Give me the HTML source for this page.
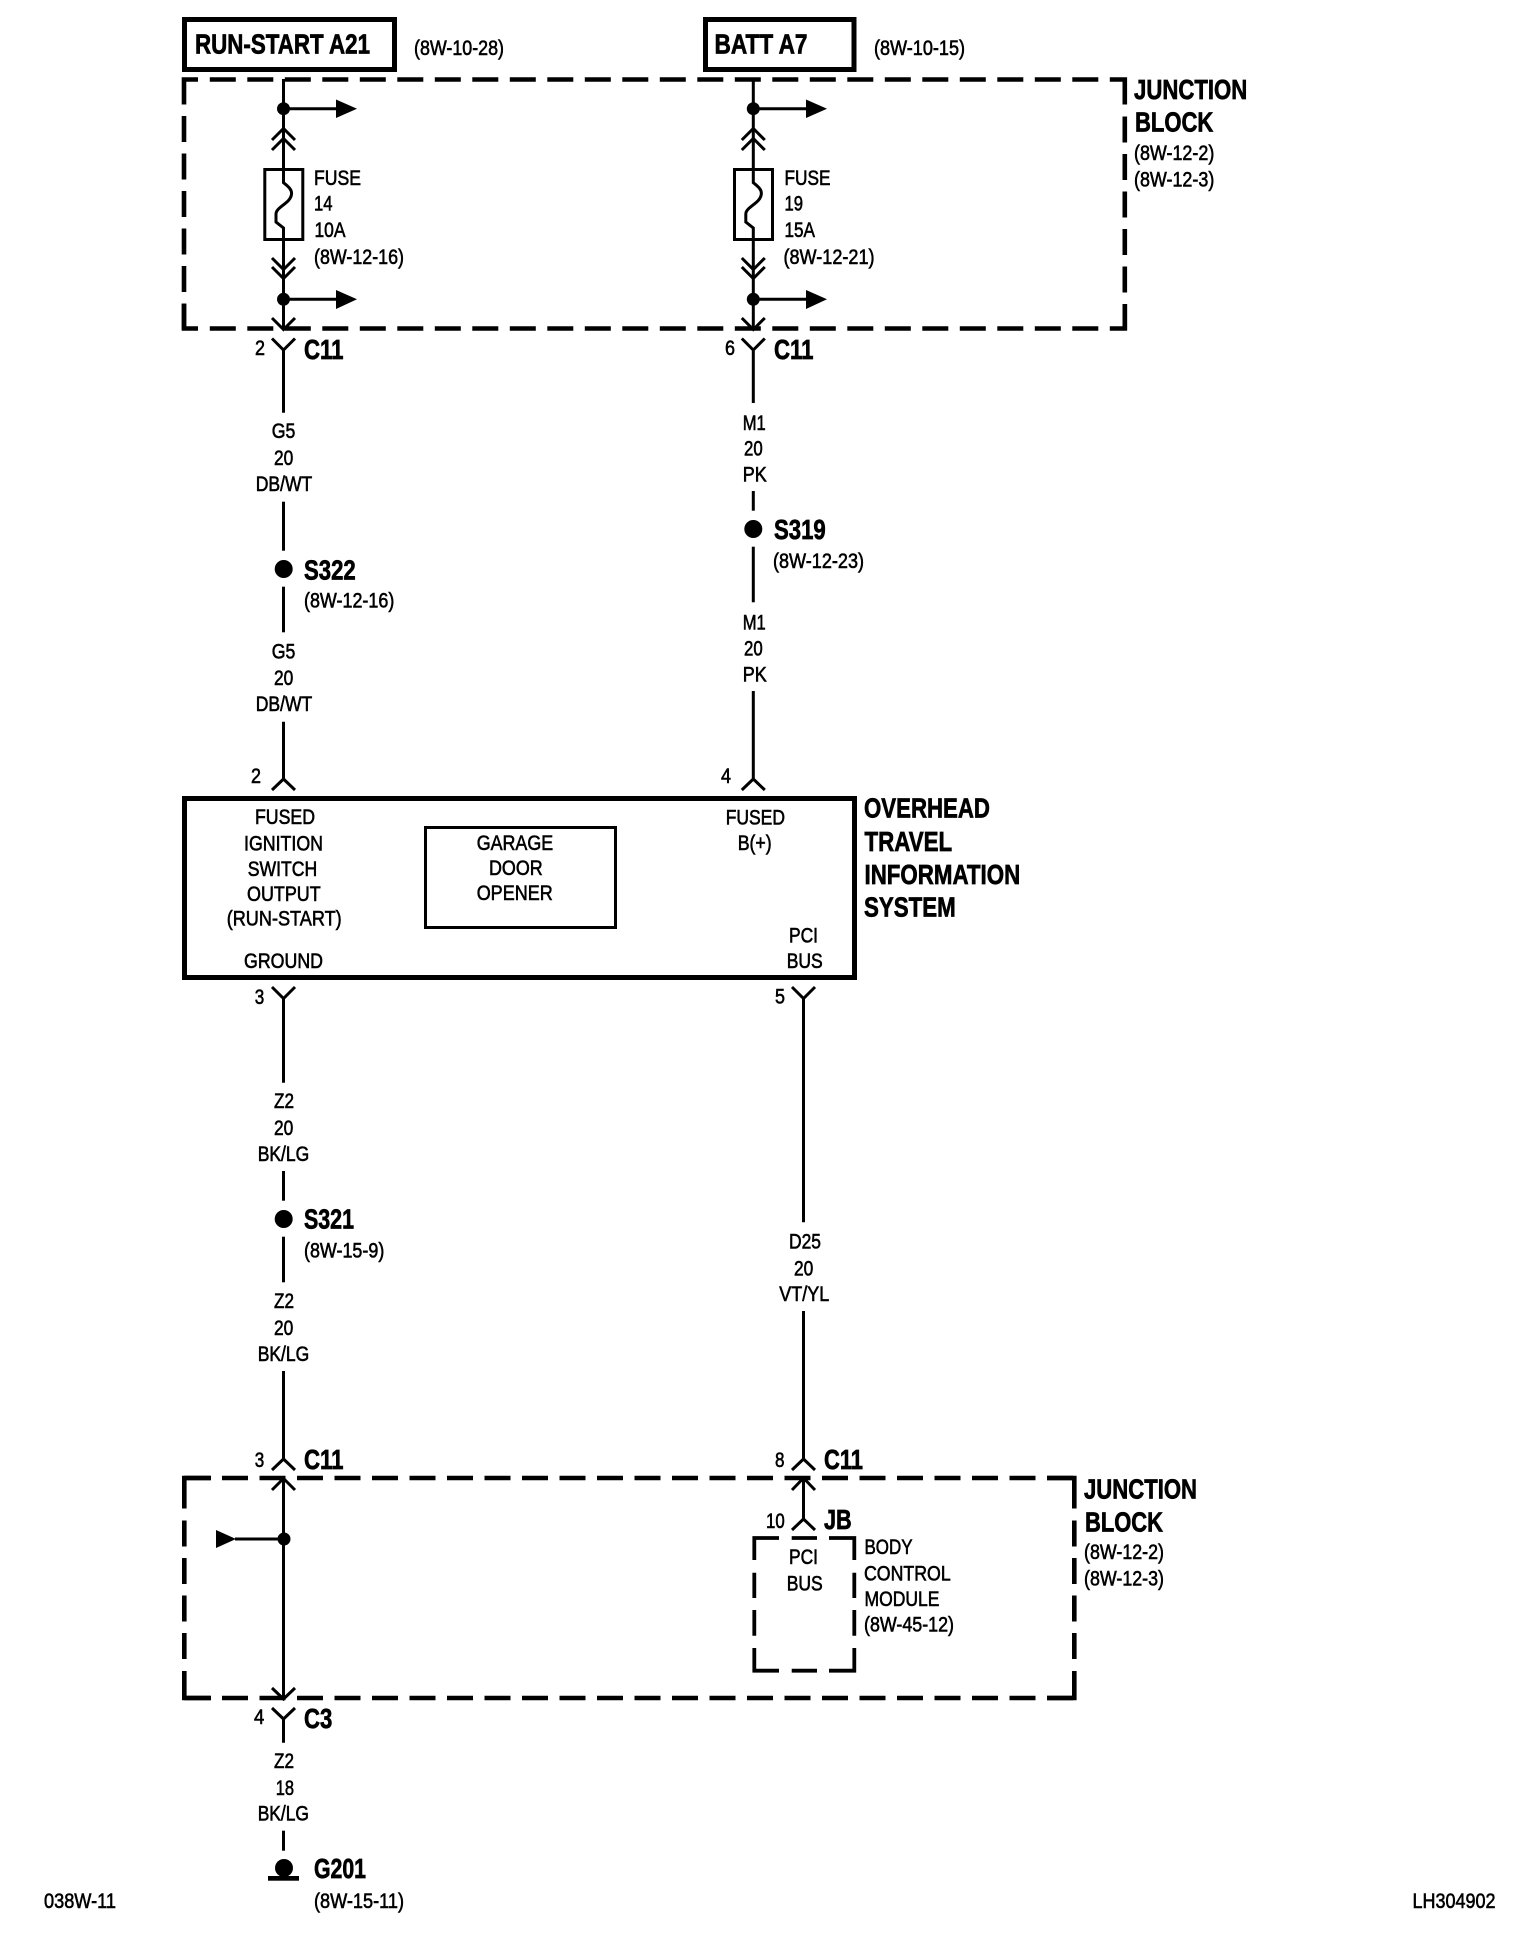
<!DOCTYPE html>
<html><head><meta charset="utf-8"><style>
html,body{margin:0;padding:0;background:#fff;width:1520px;height:1938px;overflow:hidden}
svg{display:block}
text{font-family:"Liberation Sans",Arial,sans-serif;fill:#000}
.r{font-size:21px;stroke:#000;stroke-width:.6}
.b{font-size:28px;font-weight:bold;stroke:#000;stroke-width:.7}
.w{fill:none;stroke:#000;stroke-width:3}
.d{fill:none;stroke:#000;stroke-width:4.6;stroke-dasharray:26 11.5}
.c{fill:none;stroke:#000;stroke-width:4.6}
</style></head><body>
<svg width="1520" height="1938" viewBox="0 0 1520 1938" xmlns="http://www.w3.org/2000/svg">
<rect width="1520" height="1938" fill="#fff"/>
<!-- header boxes -->
<rect x="184.5" y="19.5" width="210" height="50" fill="none" stroke="#000" stroke-width="5"/>
<rect x="705.5" y="19.5" width="148.5" height="50" fill="none" stroke="#000" stroke-width="5"/>
<text class="b" x="195" y="53.5" textLength="175" lengthAdjust="spacingAndGlyphs">RUN-START A21</text>
<text class="r" x="414" y="55" textLength="90" lengthAdjust="spacingAndGlyphs">(8W-10-28)</text>
<text class="b" x="714.5" y="53.5" textLength="93" lengthAdjust="spacingAndGlyphs">BATT A7</text>
<text class="r" x="874" y="55" textLength="91" lengthAdjust="spacingAndGlyphs">(8W-10-15)</text>
<!-- upper junction block -->
<path class="c" d="M198 79.5H184V104.5"/>
<path class="d" d="M209.8 79.5H1110"/>
<path class="c" d="M1110 79.5H1124.8V104.5"/>
<path class="d" d="M184 116V330"/>
<path class="d" d="M1124.8 116.5V330"/>
<path class="c" d="M198 328.5H184V304"/>
<path class="d" d="M209.8 328.5H1110"/>
<path class="c" d="M1110 328.5H1124.8V304"/>
<text class="b" x="1134" y="99.2" textLength="113.3" lengthAdjust="spacingAndGlyphs">JUNCTION</text>
<text class="b" x="1135" y="131.7" textLength="78.3" lengthAdjust="spacingAndGlyphs">BLOCK</text>
<text class="r" x="1134" y="160" textLength="80.3" lengthAdjust="spacingAndGlyphs">(8W-12-2)</text>
<text class="r" x="1134" y="186.7" textLength="80.3" lengthAdjust="spacingAndGlyphs">(8W-12-3)</text>
<!-- left fuse column -->
<path class="w" d="M283.5 79V182.7C289 187 292 190 291.5 194C291 203 276 207 276 214V222L283.5 228V330"/>
<rect x="264.8" y="169.5" width="38" height="70" fill="none" stroke="#000" stroke-width="3"/>
<circle cx="283.5" cy="108.7" r="6.5"/>
<path class="w" d="M283.5 108.7H337"/><path d="M336 99.5L357 108.7L336 118Z"/>
<circle cx="283.5" cy="299.3" r="6.5"/>
<path class="w" d="M283.5 299.3H337"/><path d="M336 290L357 299.3L336 309Z"/>
<path class="w" d="M272 140L283.5 128.5L295 140M272 150L283.5 138.5L295 150"/>
<path class="w" d="M272 258L283.5 269.5L295 258M272 267L283.5 278.5L295 267"/>
<path class="w" d="M272 318L283.5 329.5L295 318"/>
<text class="r" x="314" y="185" textLength="47" lengthAdjust="spacingAndGlyphs">FUSE</text>
<text class="r" x="314" y="210.7" textLength="18.5" lengthAdjust="spacingAndGlyphs">14</text>
<text class="r" x="314.5" y="237" textLength="31" lengthAdjust="spacingAndGlyphs">10A</text>
<text class="r" x="314" y="264" textLength="90" lengthAdjust="spacingAndGlyphs">(8W-12-16)</text>
<!-- right fuse column -->
<path class="w" d="M753.3 79V182.7C758.8 187 761.8 190 761.3 194C760.8 203 745.8 207 745.8 214V222L753.3 228V330"/>
<rect x="734.5" y="169.5" width="38" height="70" fill="none" stroke="#000" stroke-width="3"/>
<circle cx="753.3" cy="108.7" r="6.5"/>
<path class="w" d="M753.3 108.7H807"/><path d="M806 99.5L827 108.7L806 118Z"/>
<circle cx="753.3" cy="299.3" r="6.5"/>
<path class="w" d="M753.3 299.3H807"/><path d="M806 290L827 299.3L806 309Z"/>
<path class="w" d="M741.8 140L753.3 128.5L764.8 140M741.8 150L753.3 138.5L764.8 150"/>
<path class="w" d="M741.8 258L753.3 269.5L764.8 258M741.8 267L753.3 278.5L764.8 267"/>
<path class="w" d="M741.8 318L753.3 329.5L764.8 318"/>
<text class="r" x="784.5" y="185" textLength="46" lengthAdjust="spacingAndGlyphs">FUSE</text>
<text class="r" x="784.5" y="210.7" textLength="18.5" lengthAdjust="spacingAndGlyphs">19</text>
<text class="r" x="784.5" y="237" textLength="30.5" lengthAdjust="spacingAndGlyphs">15A</text>
<text class="r" x="783.5" y="264" textLength="91" lengthAdjust="spacingAndGlyphs">(8W-12-21)</text>
<!-- C11 connectors top -->
<path class="w" d="M272 338.5L283.5 350L295 338.5M283.5 350V412.7"/>
<text class="r" x="255" y="355" textLength="10" lengthAdjust="spacingAndGlyphs">2</text>
<text class="b" x="304" y="359" textLength="39.5" lengthAdjust="spacingAndGlyphs">C11</text>
<path class="w" d="M741.8 338.5L753.3 350L764.8 338.5M753.3 350V403"/>
<text class="r" x="725" y="355" textLength="10" lengthAdjust="spacingAndGlyphs">6</text>
<text class="b" x="774" y="359" textLength="39.5" lengthAdjust="spacingAndGlyphs">C11</text>
<!-- left wire G5 -->
<text class="r" x="271.7" y="438" textLength="23.6" lengthAdjust="spacingAndGlyphs">G5</text>
<text class="r" x="274" y="465" textLength="19.3" lengthAdjust="spacingAndGlyphs">20</text>
<text class="r" x="255.7" y="491" textLength="56.6" lengthAdjust="spacingAndGlyphs">DB/WT</text>
<path class="w" d="M283.5 501.7V550.7"/>
<circle cx="283.7" cy="569" r="9"/>
<text class="b" x="304" y="579.3" textLength="51.7" lengthAdjust="spacingAndGlyphs">S322</text>
<text class="r" x="304" y="607.3" textLength="90.3" lengthAdjust="spacingAndGlyphs">(8W-12-16)</text>
<path class="w" d="M283.5 586.7V632.3"/>
<text class="r" x="271.7" y="658.3" textLength="23.6" lengthAdjust="spacingAndGlyphs">G5</text>
<text class="r" x="274" y="685" textLength="19.3" lengthAdjust="spacingAndGlyphs">20</text>
<text class="r" x="255.7" y="711" textLength="56.6" lengthAdjust="spacingAndGlyphs">DB/WT</text>
<path class="w" d="M283.5 721.7V780M272 790L283.5 779L295 790"/>
<text class="r" x="251" y="783" textLength="10" lengthAdjust="spacingAndGlyphs">2</text>
<!-- right wire M1 -->
<text class="r" x="742.7" y="430" textLength="23" lengthAdjust="spacingAndGlyphs">M1</text>
<text class="r" x="744" y="455.7" textLength="18.7" lengthAdjust="spacingAndGlyphs">20</text>
<text class="r" x="742.7" y="481.7" textLength="24" lengthAdjust="spacingAndGlyphs">PK</text>
<path class="w" d="M753.3 491V510.7"/>
<circle cx="753.3" cy="529" r="9"/>
<text class="b" x="774" y="539" textLength="51.7" lengthAdjust="spacingAndGlyphs">S319</text>
<text class="r" x="773" y="568" textLength="91" lengthAdjust="spacingAndGlyphs">(8W-12-23)</text>
<path class="w" d="M753.3 546.7V602.3"/>
<text class="r" x="742.7" y="629.3" textLength="23" lengthAdjust="spacingAndGlyphs">M1</text>
<text class="r" x="744" y="655.7" textLength="18.7" lengthAdjust="spacingAndGlyphs">20</text>
<text class="r" x="742.7" y="681.7" textLength="24" lengthAdjust="spacingAndGlyphs">PK</text>
<path class="w" d="M753.3 691V780M741.8 790L753.3 779L764.8 790"/>
<text class="r" x="721" y="783" textLength="10" lengthAdjust="spacingAndGlyphs">4</text>
<!-- main module -->
<rect x="184.5" y="798.5" width="670" height="179" fill="none" stroke="#000" stroke-width="5"/>
<rect x="425.5" y="827.5" width="190" height="100" fill="none" stroke="#000" stroke-width="3"/>
<text class="r" x="255" y="824" textLength="60" lengthAdjust="spacingAndGlyphs">FUSED</text>
<text class="r" x="244" y="850.7" textLength="79" lengthAdjust="spacingAndGlyphs">IGNITION</text>
<text class="r" x="247.7" y="876" textLength="69.5" lengthAdjust="spacingAndGlyphs">SWITCH</text>
<text class="r" x="247" y="901" textLength="73.7" lengthAdjust="spacingAndGlyphs">OUTPUT</text>
<text class="r" x="226.7" y="925.7" textLength="115" lengthAdjust="spacingAndGlyphs">(RUN-START)</text>
<text class="r" x="244" y="968" textLength="79" lengthAdjust="spacingAndGlyphs">GROUND</text>
<text class="r" x="476.7" y="850" textLength="76.5" lengthAdjust="spacingAndGlyphs">GARAGE</text>
<text class="r" x="489" y="875" textLength="53.7" lengthAdjust="spacingAndGlyphs">DOOR</text>
<text class="r" x="476.7" y="900" textLength="76" lengthAdjust="spacingAndGlyphs">OPENER</text>
<text class="r" x="725.7" y="824.3" textLength="59.3" lengthAdjust="spacingAndGlyphs">FUSED</text>
<text class="r" x="737.7" y="850" textLength="34" lengthAdjust="spacingAndGlyphs">B(+)</text>
<text class="r" x="789" y="942.7" textLength="29" lengthAdjust="spacingAndGlyphs">PCI</text>
<text class="r" x="786.7" y="968" textLength="36" lengthAdjust="spacingAndGlyphs">BUS</text>
<text class="b" x="864" y="817.7" textLength="126" lengthAdjust="spacingAndGlyphs">OVERHEAD</text>
<text class="b" x="864.5" y="851" textLength="87.7" lengthAdjust="spacingAndGlyphs">TRAVEL</text>
<text class="b" x="864.5" y="884" textLength="155.7" lengthAdjust="spacingAndGlyphs">INFORMATION</text>
<text class="b" x="864" y="916.7" textLength="91.7" lengthAdjust="spacingAndGlyphs">SYSTEM</text>
<!-- below module left -->
<path class="w" d="M272 987L283.5 998.5L295 987M283.5 998.5V1082.7"/>
<text class="r" x="254.7" y="1004" textLength="9.5" lengthAdjust="spacingAndGlyphs">3</text>
<text class="r" x="274" y="1108" textLength="20" lengthAdjust="spacingAndGlyphs">Z2</text>
<text class="r" x="274" y="1135" textLength="19.3" lengthAdjust="spacingAndGlyphs">20</text>
<text class="r" x="257.7" y="1161" textLength="51.6" lengthAdjust="spacingAndGlyphs">BK/LG</text>
<path class="w" d="M283.5 1171V1200.7"/>
<circle cx="283.7" cy="1219" r="9"/>
<text class="b" x="304" y="1228.3" textLength="50" lengthAdjust="spacingAndGlyphs">S321</text>
<text class="r" x="304" y="1257.3" textLength="80.3" lengthAdjust="spacingAndGlyphs">(8W-15-9)</text>
<path class="w" d="M283.5 1236.7V1282.3"/>
<text class="r" x="274" y="1308" textLength="20" lengthAdjust="spacingAndGlyphs">Z2</text>
<text class="r" x="274" y="1335" textLength="19.3" lengthAdjust="spacingAndGlyphs">20</text>
<text class="r" x="257.7" y="1361" textLength="51.6" lengthAdjust="spacingAndGlyphs">BK/LG</text>
<path class="w" d="M283.5 1371V1460M272 1470L283.5 1459L295 1470"/>
<text class="r" x="254.7" y="1467" textLength="9.5" lengthAdjust="spacingAndGlyphs">3</text>
<text class="b" x="304" y="1469" textLength="39.5" lengthAdjust="spacingAndGlyphs">C11</text>
<!-- below module right -->
<path class="w" d="M792 987L803.5 998.5L815 987M803.5 998.5V1222.3"/>
<text class="r" x="775" y="1003.3" textLength="10" lengthAdjust="spacingAndGlyphs">5</text>
<text class="r" x="789" y="1248.5" textLength="32" lengthAdjust="spacingAndGlyphs">D25</text>
<text class="r" x="794" y="1275.5" textLength="19.3" lengthAdjust="spacingAndGlyphs">20</text>
<text class="r" x="779.3" y="1301" textLength="50" lengthAdjust="spacingAndGlyphs">VT/YL</text>
<path class="w" d="M803.5 1311V1460M792 1470L803.5 1459L815 1470"/>
<text class="r" x="775" y="1467" textLength="9.5" lengthAdjust="spacingAndGlyphs">8</text>
<text class="b" x="824" y="1469" textLength="39" lengthAdjust="spacingAndGlyphs">C11</text>
<!-- lower junction block -->
<path class="d" d="M184.5 1478H1076"/>
<path class="d" d="M184.5 1698H1076"/>
<path class="c" d="M1047 1478H1074.3V1508.5"/>
<path class="c" d="M1047 1698H1074.3V1671"/>
<path class="c" d="M211 1478H184.3V1508.5"/>
<path class="c" d="M211 1698H184.3V1671"/>
<path class="d" d="M184.3 1520.5V1660"/>
<path class="d" d="M1074.3 1520.5V1660"/>
<text class="b" x="1084" y="1498.7" textLength="113" lengthAdjust="spacingAndGlyphs">JUNCTION</text>
<text class="b" x="1085" y="1531.7" textLength="78" lengthAdjust="spacingAndGlyphs">BLOCK</text>
<text class="r" x="1084" y="1559" textLength="80" lengthAdjust="spacingAndGlyphs">(8W-12-2)</text>
<text class="r" x="1084" y="1585.7" textLength="80" lengthAdjust="spacingAndGlyphs">(8W-12-3)</text>
<!-- lower left wire -->
<path class="w" d="M283.5 1478V1698"/>
<path class="w" d="M272 1490L283.5 1478.5L295 1490M272 1688L283.5 1699L295 1688"/>
<circle cx="284" cy="1539" r="6.5"/>
<path class="w" d="M235 1539H284"/><path d="M216 1530L236 1539L216 1548Z"/>
<path class="w" d="M272 1708L283.5 1719L295 1708M283.5 1719V1742.7"/>
<text class="r" x="254" y="1724" textLength="10.3" lengthAdjust="spacingAndGlyphs">4</text>
<text class="b" x="304" y="1728" textLength="28.3" lengthAdjust="spacingAndGlyphs">C3</text>
<text class="r" x="274" y="1768" textLength="20" lengthAdjust="spacingAndGlyphs">Z2</text>
<text class="r" x="275.7" y="1795" textLength="18.3" lengthAdjust="spacingAndGlyphs">18</text>
<text class="r" x="257.7" y="1820.7" textLength="51.3" lengthAdjust="spacingAndGlyphs">BK/LG</text>
<path class="w" d="M283.5 1830.7V1850.7"/>
<circle cx="284" cy="1868" r="9"/>
<rect x="268" y="1876" width="31" height="4.7"/>
<text class="b" x="314" y="1878" textLength="52" lengthAdjust="spacingAndGlyphs">G201</text>
<text class="r" x="314" y="1908" textLength="90" lengthAdjust="spacingAndGlyphs">(8W-15-11)</text>
<!-- BCM -->
<path class="w" d="M803.5 1476V1520M792 1490L803.5 1478L815 1490M792 1530L803.5 1519L815 1530"/>
<text class="r" x="766" y="1528" textLength="18.7" lengthAdjust="spacingAndGlyphs">10</text>
<text class="b" x="824" y="1529" textLength="27.7" lengthAdjust="spacingAndGlyphs">JB</text>
<path fill="none" stroke="#000" stroke-width="3.8" d="M779 1538H754.3V1560M791.7 1538H817M829 1538H854.3V1560M754.3 1572.7V1598M754.3 1610V1635.7M754.3 1648V1670.7H779M791.7 1670.7H817M829 1670.7H854.3V1648M854.3 1635.7V1610M854.3 1598V1572.7"/>
<text class="r" x="789" y="1564" textLength="29" lengthAdjust="spacingAndGlyphs">PCI</text>
<text class="r" x="786.7" y="1590.7" textLength="36" lengthAdjust="spacingAndGlyphs">BUS</text>
<text class="r" x="864.5" y="1554" textLength="48" lengthAdjust="spacingAndGlyphs">BODY</text>
<text class="r" x="864" y="1580.7" textLength="86.7" lengthAdjust="spacingAndGlyphs">CONTROL</text>
<text class="r" x="864.5" y="1606" textLength="75" lengthAdjust="spacingAndGlyphs">MODULE</text>
<text class="r" x="864" y="1631.7" textLength="90" lengthAdjust="spacingAndGlyphs">(8W-45-12)</text>
<!-- footer -->
<text class="r" x="44" y="1908" textLength="72" lengthAdjust="spacingAndGlyphs">038W-11</text>
<text class="r" x="1412.5" y="1908" textLength="83" lengthAdjust="spacingAndGlyphs">LH304902</text>
</svg>
</body></html>
